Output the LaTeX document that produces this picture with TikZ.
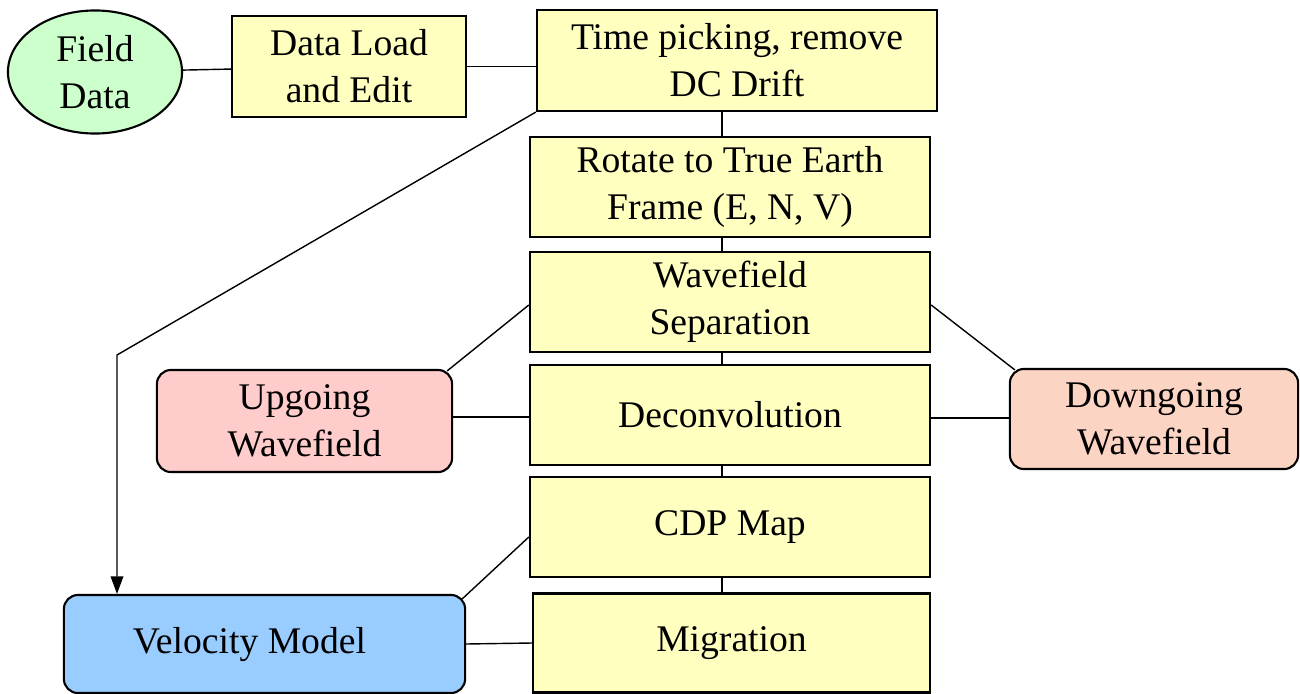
\documentclass[tikz,border=0pt]{standalone}
\usepackage{fontspec}
\setmainfont{Liberation Serif}
\usetikzlibrary{shapes.geometric,arrows.meta}

\definecolor{fieldgreen}{RGB}{204,255,204}
\definecolor{stepyellow}{RGB}{255,255,192}
\definecolor{uppink}{RGB}{255,204,204}
\definecolor{downpink}{RGB}{252,212,196}
\definecolor{velblue}{RGB}{153,204,255}

\begin{document}
\begin{tikzpicture}[x=0.01cm,y=-0.01cm,
  every node/.style={font=\fontsize{10.7}{13.4}\selectfont,align=center,inner sep=0pt},
  stepbox/.style={draw,line width=0.6pt,fill=stepyellow,minimum width=4cm,minimum height=1cm},
  wavebox/.style={draw,line width=0.6pt,rounded corners=4pt,minimum height=1cm},
  link/.style={line width=0.4pt}]
  \useasboundingbox (0,0) rectangle (1300,694);
  \node[ellipse,draw,line width=0.6pt,fill=fieldgreen,minimum width=1.74cm,minimum height=1.23cm] (fd) at (95,72) {Field\\Data};
  \node[stepbox,minimum width=2.34cm,minimum height=1.01cm] (load) at (349,66.5) {Data Load\\and Edit};
  \node[stepbox,minimum height=1.01cm] (pick) at (737,60.5) {Time picking, remove\\DC Drift};
  \node[stepbox] (rot) at (730,187) {Rotate to True Earth\\Frame (E, N, V)};
  \node[stepbox] (sep) at (730,302) {Wavefield\\Separation};
  \node[stepbox] (dec) at (730,415) {Deconvolution};
  \node[stepbox] (cdp) at (730,527) {CDP Map};
  \node[stepbox,minimum width=3.97cm,minimum height=0.99cm] (mig) at (731.5,643) {Migration};
  \node[wavebox,fill=uppink,minimum width=2.95cm,minimum height=1.02cm] (up) at (304.5,421) {Upgoing\\Wavefield};
  \node[wavebox,fill=downpink,minimum width=2.88cm] (down) at (1154,419) {Downgoing\\Wavefield};
  \node[wavebox,fill=velblue,minimum width=4.01cm,minimum height=0.98cm] (vel) at (264.5,644) {Velocity Model\hspace*{0.8em}};
  \coordinate (spine) at (722,0);
  \coordinate (bend) at (117,355);
  \draw[link] (fd) -- (load);
  \draw[link] (load.east) -- (load.east -| pick.west);
  \draw[link] (pick.south -| spine) -- (rot.north -| spine);
  \draw[link] (rot.south -| spine) -- (sep.north -| spine);
  \draw[link] (sep.south -| spine) -- (dec.north -| spine);
  \draw[link] (dec.south -| spine) -- (cdp.north -| spine);
  \draw[link] (cdp.south -| spine) -- (mig.north -| spine);
  \draw[link] ([shift={(-6,2)}]up.north east) -- ([shift={(0,3)}]sep.west);
  \draw[link] ([shift={(0,-4)}]up.east) -- ([shift={(0,2)}]dec.west);
  \draw[link] ([shift={(6,2)}]down.north west) -- ([shift={(0,3)}]sep.east);
  \draw[link] ([shift={(0,3)}]dec.east) -- ([shift={(0,-1)}]down.west);
  \draw[link] ([shift={(-4,5)}]vel.north east) -- ([shift={(0,10)}]cdp.west);
  \draw[link] (vel.east) -- (mig.west);
  \draw[link,-{Triangle[length=5pt,width=3.6pt]}] (pick.south west) -- (bend) -- (vel.north -| bend);
\end{tikzpicture}
\end{document}
